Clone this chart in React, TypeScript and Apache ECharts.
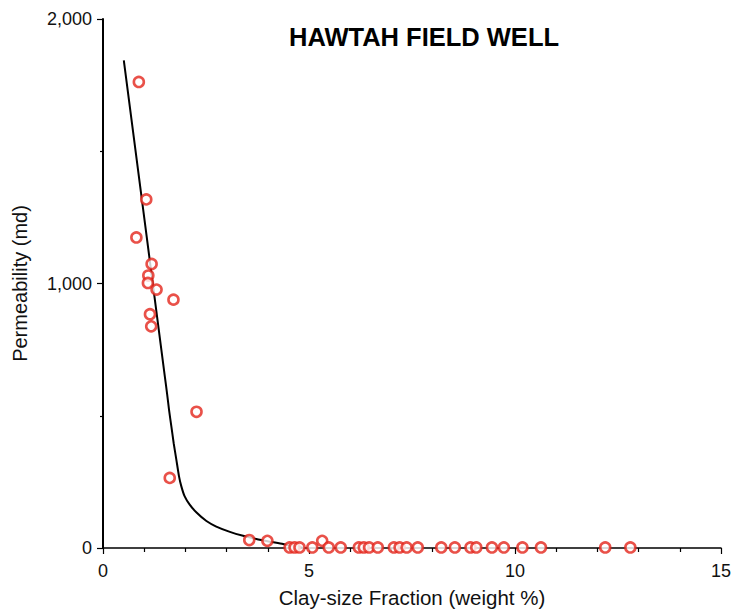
import React, { useEffect, useRef } from "react";
import * as echarts from "echarts";

const titleText = "HAWTAH FIELD WELL";
const xAxisName = "Clay-size Fraction (weight %)";
const yAxisName = "Permeability (md)";

// Measured samples: clay-size fraction (weight %) and permeability (md)
const clayFraction = [
  0.87, 1.05, 0.81, 1.18, 1.1, 1.09, 1.3, 1.71, 1.14, 1.17, 2.27, 1.62, 3.55,
  3.99, 4.53, 4.65, 4.77, 5.08, 5.32, 5.48, 5.77, 6.21, 6.33, 6.46, 6.67, 7.06,
  7.2, 7.37, 7.64, 8.21, 8.54, 8.92, 9.06, 9.44, 9.73, 10.18, 10.63, 12.19,
  12.8,
];
const permeability = [
  1762, 1318, 1174, 1074, 1030, 1002, 977, 939, 884, 838, 515, 265, 30, 27, 2,
  2, 2, 2, 27, 2, 2, 2, 2, 2, 2, 2, 2, 2, 2, 2, 2, 2, 2, 2, 2, 2, 2, 2, 2,
];

// Fitted trend curve
const fitX = [
  0.505, 1.502, 1.555, 1.603, 1.66, 1.716, 1.78, 1.845, 1.9, 1.98, 2.1, 2.27,
  2.51, 2.75, 3.08, 3.4, 3.72, 4.05, 4.37, 4.53, 4.85,
];
const fitY = [
  1844, 647, 584, 522, 459, 396, 334, 271, 234, 196, 165, 134, 102, 81, 61, 46,
  34, 24, 15, 9, 1,
];

const yTickLabels: Record<number, string> = { 0: "0", 1000: "1,000", 2000: "2,000" };

const FONT = "'Liberation Sans', Arial, Helvetica, sans-serif";

export default function App() {
  const ref = useRef<HTMLDivElement>(null);

  useEffect(() => {
    if (!ref.current) return;
    const chart = echarts.init(ref.current, undefined, { renderer: "svg" });
    const points = clayFraction.map((x, i) => [x, permeability[i]]);
    const fit = fitX.map((x, i) => [x, fitY[i]]);
    chart.setOption({
      animation: false,
      backgroundColor: "#ffffff",
      textStyle: { fontFamily: FONT },
      title: {
        text: titleText,
        left: 419,
        top: 19,
        textAlign: "center",
        textStyle: { fontFamily: FONT, fontWeight: "bold", fontSize: 25.5, color: "#000" },
      },
      grid: { left: 103, right: 13, top: 19, bottom: 61, containLabel: false },
      xAxis: {
        type: "value",
        min: 0,
        max: 15,
        interval: 5,
        name: xAxisName,
        nameLocation: "middle",
        nameGap: 39,
        nameTextStyle: { fontFamily: FONT, fontSize: 20.5, color: "#111" },
        axisLine: { show: true, onZero: false, lineStyle: { color: "#000", width: 1.6 } },
        axisTick: { show: true, length: 6, lineStyle: { color: "#000", width: 1.2 } },
        minorTick: { show: true, splitNumber: 5, length: 4, lineStyle: { color: "#000", width: 1.2 } },
        splitLine: { show: false },
        axisLabel: { margin: 14, fontFamily: FONT, fontSize: 18, color: "#111" },
      },
      yAxis: {
        type: "value",
        min: 0,
        max: 2000,
        interval: 1000,
        name: yAxisName,
        nameLocation: "middle",
        nameGap: 73,
        nameTextStyle: { fontFamily: FONT, fontSize: 20, color: "#111" },
        axisLine: { show: true, onZero: false, lineStyle: { color: "#000", width: 2 } },
        axisTick: { show: true, length: 6, lineStyle: { color: "#000", width: 1.2 } },
        minorTick: { show: true, splitNumber: 2, length: 3, lineStyle: { color: "#000", width: 1.2 } },
        splitLine: { show: false },
        axisLabel: {
          margin: 11,
          fontFamily: FONT,
          fontSize: 18,
          color: "#111",
          formatter: (v: number) => yTickLabels[v] ?? "",
        },
      },
      series: [
        {
          type: "line",
          data: fit,
          smooth: 0.2,
          showSymbol: false,
          symbol: "none",
          lineStyle: { color: "#000", width: 2 },
          z: 2,
        },
        {
          type: "scatter",
          data: points,
          symbol: "circle",
          symbolSize: 10,
          itemStyle: { color: "#ffffff", borderColor: "#e3261c", borderWidth: 2.6 },
          z: 3,
        },
      ],
    });
    return () => chart.dispose();
  }, []);

  return (
    <div
      ref={ref}
      style={{ position: "fixed", left: 0, top: 0, width: 734, height: 613 }}
    />
  );
}
